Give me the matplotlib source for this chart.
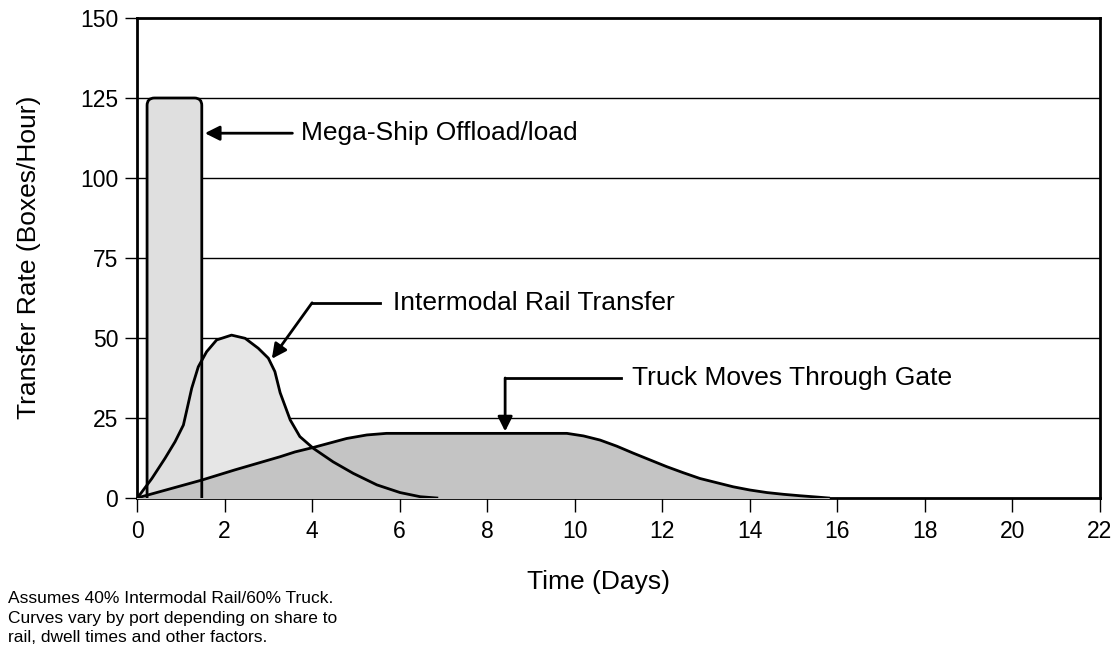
import numpy as np
import matplotlib.pyplot as plt
from matplotlib.patches import FancyBboxPatch

plt.rcParams['font.family'] = ['Liberation Sans', 'DejaVu Sans']

# ===============================
# Data
# ===============================

ship_start = 0.23
ship_end = 1.48
ship_rate = 125

rail_days = [0.0, 0.03, 0.34, 0.64, 0.87, 1.06, 1.13, 1.25, 1.40, 1.59,
             1.82, 2.16, 2.47, 2.77, 3.00, 3.15, 3.27, 3.50, 3.72, 4.03,
             4.48, 4.94, 5.48, 6.01, 6.47, 6.85]
rail_rate = [0.0, 0.4, 6.1, 12.4, 17.6, 22.8, 27.0, 34.3, 41.0, 45.7,
             49.4, 50.9, 49.9, 46.8, 43.7, 39.5, 32.9, 24.4, 19.2, 15.5,
             11.3, 7.7, 4.1, 1.7, 0.4, 0.0]

truck_days = [0.0, 1.48, 2.24, 3.27, 3.61, 4.03, 4.79, 5.25, 5.70, 9.82,
              10.2, 10.58, 10.96, 11.34, 11.72, 12.1, 12.48, 12.86, 13.24,
              13.62, 14.0, 14.39, 14.77, 15.15, 15.53, 15.8]
truck_rate = [0.0, 5.6, 8.8, 12.9, 14.4, 15.8, 18.6, 19.7, 20.2, 20.2,
              19.4, 18.1, 16.2, 14.0, 11.9, 9.8, 7.9, 6.1, 4.8,
              3.5, 2.5, 1.7, 1.15, 0.7, 0.3, 0.0]

x_ticks = list(range(0, 23, 2))
y_ticks = [0, 25, 50, 75, 100, 125, 150]

note = ("Assumes 40% Intermodal Rail/60% Truck.\n"
        "Curves vary by port depending on share to\n"
        "rail, dwell times and other factors.")

# ===============================
# Figure
# ===============================

fig = plt.figure(figsize=(11.19, 6.6), dpi=100)
ax = fig.add_axes([137 / 1119, 162 / 660, 963 / 1119, 480 / 660])
ax.set_xlim(0, 22)
ax.set_ylim(0, 150)

for y in y_ticks[1:-1]:
    ax.axhline(y, color='black', lw=1.0, zorder=1)

# rail fill
ax.fill_between(rail_days, rail_rate, color='#e6e6e6', zorder=2)


# ship bar with rounded top (fill below truck, outline above everything)
def ship_bar(**kw):
    return FancyBboxPatch((ship_start, -10), ship_end - ship_start,
                          ship_rate + 10,
                          boxstyle="round,pad=0,rounding_size=0.17",
                          mutation_aspect=43.77 / 3.2, lw=2, clip_on=True,
                          **kw)


ax.add_patch(ship_bar(facecolor='#dfdfdf', edgecolor='none', zorder=3))

# truck fill
ax.fill_between(truck_days, truck_rate, color='#c4c4c4', zorder=4)

# lines on top
ax.add_patch(ship_bar(facecolor='none', edgecolor='black', zorder=5))
ax.plot(rail_days, rail_rate, color='black', lw=2, zorder=6,
        solid_joinstyle='round')
ax.plot(truck_days, truck_rate, color='black', lw=2, zorder=6,
        solid_joinstyle='round')

# ===============================
# Annotations
# ===============================

arrow = dict(arrowstyle='-|>', color='black', lw=2, mutation_scale=22,
             shrinkA=0, shrinkB=0)

ax.annotate('', xy=(1.55, 114), xytext=(3.55, 114), arrowprops=arrow,
            zorder=7)
ax.text(3.75, 114, 'Mega-Ship Offload/load', fontsize=19, va='center')

ax.plot([4.0, 5.55], [61, 61], color='black', lw=2, zorder=7)
ax.annotate('', xy=(3.08, 43.5), xytext=(4.0, 61), arrowprops=arrow,
            zorder=7)
ax.text(5.85, 61, 'Intermodal Rail Transfer', fontsize=19, va='center')

ax.plot([8.41, 11.05], [37.5, 37.5], color='black', lw=2, zorder=7)
ax.annotate('', xy=(8.41, 20.8), xytext=(8.41, 37.5), arrowprops=arrow,
            zorder=7)
ax.text(11.3, 37.5, 'Truck Moves Through Gate', fontsize=19, va='center')

# ===============================
# Axes styling
# ===============================

ax.set_xticks(x_ticks)
ax.set_yticks(y_ticks)
ax.tick_params(direction='out', width=1.0, labelsize=16.5)
ax.tick_params(axis='x', length=10, pad=6)
ax.tick_params(axis='y', length=8.5, pad=5)
for s in ax.spines.values():
    s.set_linewidth(2)

ax.set_xlabel('Time (Days)', fontsize=19, va='center')
ax.xaxis.set_label_coords(0.479, -0.175)
ax.set_ylabel('Transfer Rate (Boxes/Hour)', fontsize=19, va='center')
ax.yaxis.set_label_coords(-0.112, 0.502)

fig.text(8 / 1119, 1 - 591 / 660, note, fontsize=12.5, va='top',
         ha='left', linespacing=1.38)

fig.savefig('out.png', dpi=100)
